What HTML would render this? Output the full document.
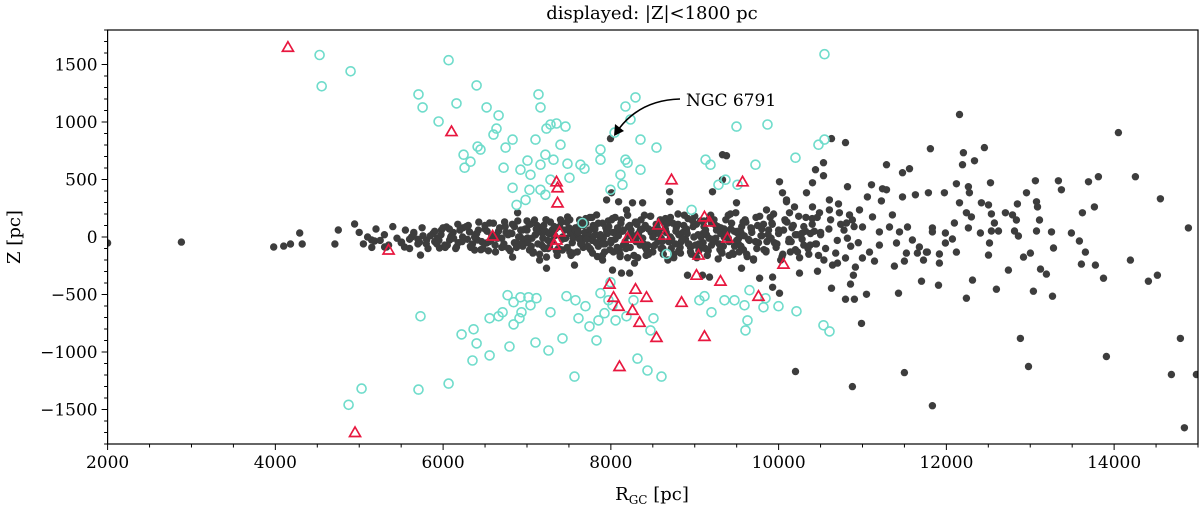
<!DOCTYPE html>
<html><head><meta charset="utf-8"><style>
html,body{margin:0;padding:0;background:#fff}
svg{display:block}
text{font-family:"DejaVu Serif","Liberation Serif",serif;fill:#000}
</style></head><body>
<svg id="chart" width="1200" height="508" viewBox="0 0 1200 508">
<text x="652" y="19" text-anchor="middle" font-size="18">displayed: |Z|&lt;1800 pc</text>
<g id="plot"></g>
<g id="axes"></g>
<text x="652" y="500" text-anchor="middle" font-size="18">R<tspan font-size="12" dy="4">GC</tspan><tspan dy="-4"> [pc]</tspan></text>
<text transform="translate(20,237) rotate(-90)" text-anchor="middle" font-size="18">Z [pc]</text>
<g>
<text x="686" y="106" font-size="17">NGC 6791</text>
<path d="M680,99 Q640,100 618,130" fill="none" stroke="#000" stroke-width="1.6"/>
<path d="M614,136 L615,124 L624,131 Z" fill="#000"/>
</g>
</svg>
<script>
const xTicks=[2000,4000,6000,8000,10000,12000,14000];
const yTicks=[-1500,-1000,-500,0,500,1000,1500];
const xDomain=[2000,15000], yDomain=[-1800,1800];
const darkR=[2000,2880,3980,4100,4180,4290,4320,4710,4750,4945,5147,5183,5326,5302,5505,5540,5624,5719,5731,5803,5934,5957,6041,6077,6160,6232,6315,6375,6410,6518,6554,6637,6709,6733,6792,6828,6875,6888,6947,7006,7030,7090,7150,7185,7233,7233,7269,7233,7424,7484,7507,7567,7627,7663,7746,7782,7830,7901,7949,8008,8020,8092,8127,8187,8223,8258,8282,8378,8700,8700,8914,9093,9176,9212,9331,9498,9558,9773,9856,9928,9928,10010,10046,10010,10094,10130,10189,9331,9379,7996,
12156,14051,11810,12203,12454,12335,12192,11286,11560,11477,10797,10630,10535,10440,10535,10404,13062,13336,13372,13694,13813,14254,14552,14886,12526,12120,12263,12275,11977,11786,11631,11477,11107,10821,11059,11238,11286,11226,12156,12418,12502,12847,12955,13074,13086,13622,13765,13110,12788,12704,12537,12573,12835,12239,12299,12096,12263,12406,12537,12621,12812,12859,13074,13253,13491,13586,13658,13610,13777,13873,14194,14409,14516,13277,13002,12919,13122,13193,12740,12502,12514,12311,12597,13038,13265,12239,11906,11703,11429,12120,11989,12072,11989,11834,11917,11917,11727,11774,11655,11524,11500,11381,11143,11048,10904,10797,10988,10630,10857,10892,10916,10201,10880,11500,11834,12883,12979,13908,14790,14683,14838,14981,10249,10464,10642,10702,10797,10999,11083,11202,11405,11595,11679,11762,11834,11536,11441,11322,11202,11000,10880,10809,10725,10606,10487,10606,10714,10404,10333,10094,11357,11119,10964,10845,
5600,5650,5700,5760,5820,5880,5900,5980,6020,6090,6120,6180,6240,6290,6330,6380,6420,6460,6500,6540,6580,6620,6660,6700,6740,6780,6820,6850,6890,6920,6950,6980,7010,7040,7070,7100,7130,7160,7190,7220,7250,7280,7300,7330,7360,7390,7420,7450,7480,7510,7540,7570,7600,7630,7660,7690,7720,7750,7780,7810,7840,7870,7900,7930,7960,7990,8020,8050,8080,8110,8140,8170,8200,8230,8260,8290,8320,8350,8380,8410,8440,8470,8500,8530,8560,8590,8620,8650,8680,8710,8740,8770,8800,8830,8860,8890,8920,8950,8980,9010,9040,9070,9100,9130,9160,9190,9220,9250,9280,9310,9340,9370,9400,9430,9460,9490,9520,9550,9580,9610,9640,9670,9700,9730,9760,9790,9820,9850,9880,9910,9940,9970,10000,10040,10080,10120,10160,10200,10240,10280,10320,10360,10400,10440,10500,10560,10620,10700,10780,10860,
7000,7060,7120,7200,7260,7340,7400,7460,7520,7580,7640,7700,7760,7820,7880,7940,8000,8060,8120,8180,8240,8300,8360,8420,8480,8540,8600,8660,8720,8780,8840,8900,8960,9020,9080,9140,9200,9260,9320,9380,9440,9500,9560,9620,9680,9740,9800,9860,9920,9980,10060,10140,10220,10300,10380,10460,10540,10600,10680,10740,10820,10900,10950,
7550,7610,7670,7730,7790,7850,7910,7970,8030,8090,8150,8210,8270,8330,8390,8450,8510,8570,8630,8690,8750,8810,8870,8930,8990,9050,9110,9170,9230,9290,9350,9410,9470,9530,9590,
5900,5950,6000,6050,6100,6150,6200,6250,6300,6350,6400,6450,6500,6550,6600,6650,6700,6750,6800,6850,6900,6950,
7000,7050,7100,7150,7200,7250,7300,7350,7400,7450,7500,7550,7600,7650,7700,7750,7800,7850,7900,7950,
8000,8050,8100,8150,8200,8250,8300,8350,8400,8450,8500,8550,8600,8650,8700,8750,8800,8850,8900,8950,
9000,9050,9100,9150,9200,9250,9300,9350,9400,9450,9500,9550,9600,9650,9700,9750,9800,9850,9900,9950,
10000,10050,10100,10150,10200,10250,10300,10350,10400,10450,10500,
5925,5975,6025,6075,6125,6175,6225,6275,6325,6375,6425,6475,6525,6575,6625,6675,6725,6775,6825,6875,6925,
6975,7025,7075,7125,7175,7225,7275,7325,7375,7425,7475,7525,7575,7625,7675,7725,7775,7825,7875,7925,7975,
8025,8075,8125,8175,8225,8275,8325,8375,8425,8475,8525,8575,8625,8675,8725,8775,8825,8875,8925,8975,9025,
9075,9125,9175,9225,9275,9325,9375,9425,9475,9525,9575,9625,9675,9725,9775,9825,9875,9925,9975,10025,10075,
10125,10175,10225,10275,10325,10375,10425,10475,
5000,5050,5100,5150,5200,5250,5300,5350,5400,5450,5500,5550,5600,5650,5700,5750,5800,5850,
7010,7110,7210,7310,7410,7510,7610,7710,7810,7910,8010,8110,8210,8310,8410,8510,8610,8710,8810,8910,9010,9110,9210,9310,9410,9510];
const darkZ=[-52,-44,-87,-79,-61,35,-61,-61,61,113,-26,-35,-87,-87,-44,-87,0,-44,-157,-26,-9,-96,87,-26,-87,0,44,-113,-26,-52,122,17,-87,131,35,-175,-52,210,61,-9,-113,148,-201,35,148,-271,-87,-175,-113,175,61,-244,148,-26,61,-140,192,-201,323,384,-288,306,-314,236,-314,297,-227,297,393,306,-332,-332,-349,393,498,297,-271,-358,236,-349,-437,480,384,-489,306,210,262,716,707,856,
1065,908,768,733,777,663,629,629,594,559,821,856,646,585,533,471,489,489,410,480,524,524,332,79,471,463,437,384,384,384,367,349,454,437,349,419,410,314,297,297,279,288,384,306,262,210,262,148,192,210,201,122,148,210,175,122,79,35,52,52,52,9,52,44,35,-35,-131,-236,-244,-358,-201,-384,-332,-96,-140,-175,-279,-323,-288,-157,-52,-375,-454,-471,-515,-532,-419,-384,-489,-131,-52,-17,35,79,-148,-227,-201,-131,-140,-140,-210,-253,-210,-498,-541,-541,-751,-445,-410,-332,-262,-1170,-1301,-1179,-1467,-882,-1126,-1039,-882,-1196,-1659,-1196,-314,-297,-244,-227,-183,-183,-131,-70,-52,-26,-87,-131,44,87,44,87,44,87,148,122,210,236,210,323,288,262,384,323,192,175,236,192,
-20,40,-60,10,-100,30,-40,60,-70,0,40,-50,80,-20,-90,20,60,-40,100,-120,10,-70,50,-10,90,-100,30,-50,140,0,-80,70,-30,110,-140,20,-60,80,-10,50,-100,130,-40,10,-160,90,-20,60,-90,150,-50,20,-130,100,-10,40,-80,170,-30,70,-170,0,120,-60,30,-110,160,-20,80,-150,50,-40,190,-90,10,130,-180,60,-10,100,-70,180,-130,30,-40,150,-100,70,-200,0,120,-60,200,-140,40,-20,160,-90,90,-170,20,140,-50,60,-120,190,-30,100,-190,30,-80,150,-10,70,-150,210,-60,40,-110,130,-20,80,-200,170,-50,10,110,-130,60,-10,200,-90,30,-170,140,-40,80,-110,180,-20,50,-150,110,-60,20,-100,150,-30,60,-80,
60,-10,100,-90,30,70,-110,-10,30,80,-60,120,-110,20,-60,80,-50,40,120,-100,60,-40,150,-160,40,110,-10,40,-100,80,-40,60,-150,110,-80,20,-70,60,-130,30,120,-30,90,-150,40,-100,70,-40,120,-60,60,-130,20,-70,30,170,-200,70,-140,110,-10,90,-50,
-10,50,-90,10,100,-80,-10,140,-130,10,-70,90,-20,30,-60,70,-80,60,130,-40,-150,20,100,-60,0,-120,90,-10,150,-60,0,-40,50,-130,10,
50,-30,80,-70,10,-100,60,-20,100,-60,30,-110,70,-40,120,-10,-90,40,-120,90,0,-50,
140,-80,20,-150,100,-30,60,-120,150,-10,80,-140,30,-60,160,-100,10,120,-160,50,
-30,170,-120,60,-180,20,130,-70,190,-150,0,90,-100,160,-40,-180,110,-20,70,-130,
180,-60,30,-160,120,-10,-110,70,190,-140,40,-80,150,-30,-190,100,10,-120,170,-50,
60,-150,130,-40,20,-180,90,-100,160,-60,40,
-60,20,-90,70,-10,110,-40,90,-80,0,130,-100,50,-20,-130,80,-60,20,110,-90,60,
-20,110,-130,40,-70,150,-40,90,-100,0,130,-160,60,-20,100,-80,170,-50,20,-130,90,
40,-90,150,-50,100,-160,10,70,-110,180,-70,30,-150,120,-20,50,-90,190,-60,140,-180,
0,-100,160,-40,90,-140,40,200,-80,-10,130,-170,70,-40,180,-110,20,110,-60,-200,150,
-20,100,-130,30,170,-70,50,-160,
40,-60,0,-90,70,-30,20,-70,90,-10,-50,60,-100,30,-20,80,-60,10,
-50,70,-100,20,130,-130,40,-20,90,-60,150,-170,10,110,-90,60,-40,170,-120,30,-70,140,-20,80,-160,50];
const cyanR=[4528,4552,4897,6065,6399,10547,5707,5755,6160,5946,6518,6661,6637,6411,6244,6256,6327,6446,6601,6745,6828,6721,6923,7006,6828,6876,7042,7137,7161,7233,7280,7352,7459,7399,7101,7220,7161,7316,7030,7161,7220,6983,7280,7483,7507,7638,7686,7877,7877,8044,8175,8294,8234,8175,8115,7996,8139,8353,8544,8199,8353,9129,9188,9283,9367,9510,9724,9867,9498,10201,10476,10547,8962,7662,8664,
4873,5028,5707,6065,6220,6351,6363,6399,6554,6554,6661,6709,6792,6840,6911,6935,6769,6840,6923,7018,7042,7113,7280,7101,7257,7567,7423,7471,7578,7614,7698,7745,7829,7853,7924,7972,8020,7877,7996,8056,8187,8270,8318,8437,8604,8508,8473,9056,9116,9200,9355,9474,9593,9653,9629,9605,9820,9999,10213,10535,10607,9844,5731];
const cyanZ=[1583,1310,1441,1537,1318,1590,1240,1127,1162,1004,1127,1057,943,786,716,603,655,760,890,777,847,603,585,664,428,279,541,1240,1127,943,978,987,960,803,847,716,629,672,410,410,367,323,498,637,515,629,594,672,760,908,1135,1214,1022,672,541,410,454,847,777,646,585,672,629,454,498,454,629,978,960,690,803,847,236,122,-148,
-1459,-1318,-1327,-1275,-847,-1074,-803,-925,-1030,-707,-690,-655,-952,-760,-707,-655,-506,-567,-524,-524,-594,-532,-655,-917,-987,-1214,-882,-515,-550,-707,-602,-777,-899,-725,-663,-550,-594,-489,-393,-725,-690,-550,-1057,-1161,-1214,-707,-812,-550,-515,-655,-550,-550,-594,-463,-725,-812,-611,-602,-646,-768,-821,-533,-690];
const redR=[4150,6100,7352,7364,7364,8723,9570,6590,5350,7388,7352,7328,8199,8318,8568,8640,9116,9176,9390,9045,10058,9021,7984,8032,8091,8294,8425,8258,8342,8843,9307,9760,8103,8544,9116,4950];
const redZ=[1650,917,480,428,297,498,480,9,-113,44,-26,-70,-9,-9,105,17,175,131,-9,-157,-236,-332,-410,-524,-602,-454,-524,-637,-742,-568,-384,-515,-1126,-873,-864,-1700];

const L=107.6,R=1198,T=30,B=444;
const NS='http://www.w3.org/2000/svg';
function sx(v){return L+(v-xDomain[0])/(xDomain[1]-xDomain[0])*(R-L);}
function sy(v){return T+(yDomain[1]-v)/(yDomain[1]-yDomain[0])*(B-T);}
function mk(tag,attrs,parent){const e=document.createElementNS(NS,tag);for(const k in attrs)e.setAttribute(k,attrs[k]);parent.appendChild(e);return e;}
const plot=document.getElementById('plot');
const axes=document.getElementById('axes');
const cp=mk('clipPath',{id:'clip'},plot);
mk('rect',{x:L,y:T,width:R-L,height:B-T},cp);
const gd=mk('g',{'clip-path':'url(#clip)'},plot);


for(let i=0;i<darkR.length;i++){
 const c=mk('circle',{cx:sx(darkR[i]).toFixed(1),cy:sy(darkZ[i]).toFixed(1),r:3.7,fill:'#3d3d3d'},gd);
 
 
}
const gc=mk('g',{'clip-path':'url(#clip)'},plot);


for(let i=0;i<cyanR.length;i++){
 const c=mk('circle',{cx:sx(cyanR[i]).toFixed(1),cy:sy(cyanZ[i]).toFixed(1),r:4.5,fill:'none',stroke:'#6fdccb','stroke-width':1.6},gc);
 
 
}
const gr=mk('g',{'clip-path':'url(#clip)'},plot);


for(let i=0;i<redR.length;i++){
 const x=sx(redR[i]),y=sy(redZ[i]);
 const p=mk('path',{d:`M${x},${y-5.5} L${x+5.5},${y+4} L${x-5.5},${y+4} Z`,fill:'none',stroke:'#e8173f','stroke-width':1.7,'stroke-linejoin':'miter'},gr);
 
 
}
const fr=mk('rect',{x:L,y:T,width:R-L,height:B-T,fill:'none',stroke:'#000','stroke-width':1.2},axes);


for(let v=xDomain[0];v<=xDomain[1];v+=500){
 const major=xTicks.includes(v);
 const t=mk('line',{x1:sx(v),x2:sx(v),y1:B,y2:B+(major?6:3.5),stroke:'#000','stroke-width':1},axes);
 
 
}
for(const v of xTicks){
 const t=mk('text',{x:sx(v),y:B+24,'text-anchor':'middle','font-size':17},axes);
 t.textContent=v;
 
 
}
for(let v=-1800;v<=1800;v+=100){
 const major=yTicks.includes(v);
 const t=mk('line',{x1:L-(major?6:3.5),x2:L,y1:sy(v),y2:sy(v),stroke:'#000','stroke-width':1},axes);
 
 
}
for(const v of yTicks){
 const t=mk('text',{x:L-10,y:sy(v)+6,'text-anchor':'end','font-size':17},axes);
 t.textContent=v<0?'\u2212'+Math.abs(v):String(v);
 
 
}
</script>
</body></html>
